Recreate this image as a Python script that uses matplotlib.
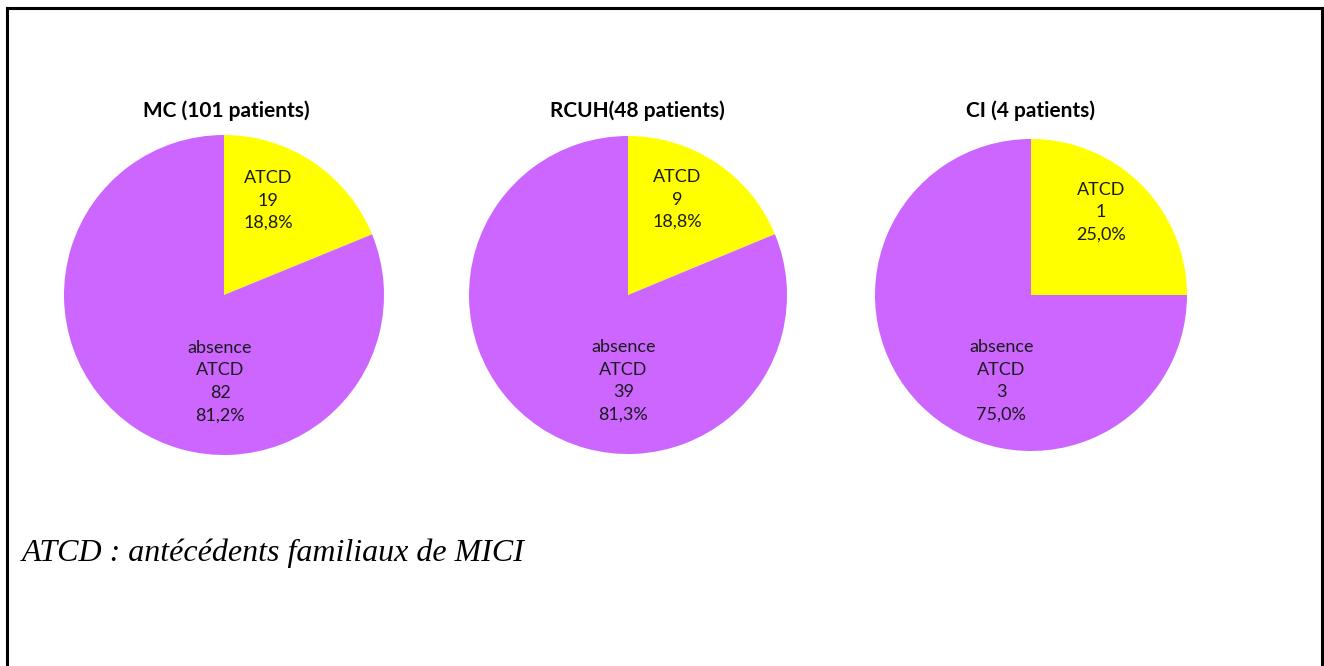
#!/usr/bin/env python3
"""
Pie charts: family history of IBD (ATCD) by patient group
"""
from decimal import Decimal, ROUND_HALF_UP
import matplotlib
matplotlib.use("Agg")
import matplotlib.pyplot as plt
from matplotlib.lines import Line2D

# Data
groups = ["MC (101 patients)", "RCUH(48 patients)", "CI (4 patients)"]
categories = ["ATCD", "absence\nATCD"]
atcd_counts = [19, 9, 1]
absence_counts = [82, 39, 3]
caption = "ATCD : antécédents familiaux de MICI"

# Layout (pixels, image 1324x666)
W, H = 1324, 666
centers = [(224, 295), (628, 295), (1031, 295)]
radii = [160, 159, 156]
title_x = [226, 637, 1030]
title_y = 111
# label positions in units of pie radius: (ATCD, absence)
label_pos = [
    [(0.275, 0.59), (-0.025, -0.54)],
    [(0.31, 0.60), (-0.03, -0.54)],
    [(0.45, 0.53), (-0.19, -0.55)],
]
colors = ["#FFFF00", "#CC66FF"]


def pct_label(value, total):
    pct = (Decimal(value) * 100 / Decimal(total)).quantize(Decimal("0.1"), rounding=ROUND_HALF_UP)
    return f"{pct}%".replace(".", ",")


fig = plt.figure(figsize=(W / 100, H / 100), dpi=100)
fig.patch.set_facecolor("white")

for i, name in enumerate(groups):
    cx, cy = centers[i]
    r = radii[i]
    ax = fig.add_axes([(cx - r) / W, (H - cy - r) / H, 2 * r / W, 2 * r / H])
    values = [atcd_counts[i], absence_counts[i]]
    total = sum(values)
    ax.pie(values, colors=colors, startangle=90, counterclock=False,
           radius=1, wedgeprops=dict(linewidth=0))
    ax.set_xlim(-1, 1)
    ax.set_ylim(-1, 1)
    ax.set_aspect("equal")
    ax.axis("off")

    for j, cat in enumerate(categories):
        txt = f"{cat}\n{values[j]}\n{pct_label(values[j], total)}"
        x, y = label_pos[i][j]
        ax.text(x, y, txt, ha="center", va="center", fontsize=13,
                family="Lato", color="#1a1a1a", linespacing=1.5)

    fig.text(title_x[i] / W, 1 - title_y / H, name, ha="center", va="center",
             fontsize=15, fontweight="bold", family="Lato", color="black")

fig.text(22 / W, 1 - 553 / H, caption, ha="left", va="center", fontsize=23,
         family="Liberation Serif", style="italic", color="black")

# frame (open at the bottom)
lw = 2.2
for xs, ys in [((7, 7), (8, H + 5)), ((7, 1322), (8, 8)), ((1322, 1322), (8, H + 5))]:
    fig.add_artist(Line2D([x / W for x in xs], [1 - y / H for y in ys],
                          transform=fig.transFigure, color="black", linewidth=lw,
                          solid_capstyle="projecting"))

fig.savefig("out.png", dpi=100)
